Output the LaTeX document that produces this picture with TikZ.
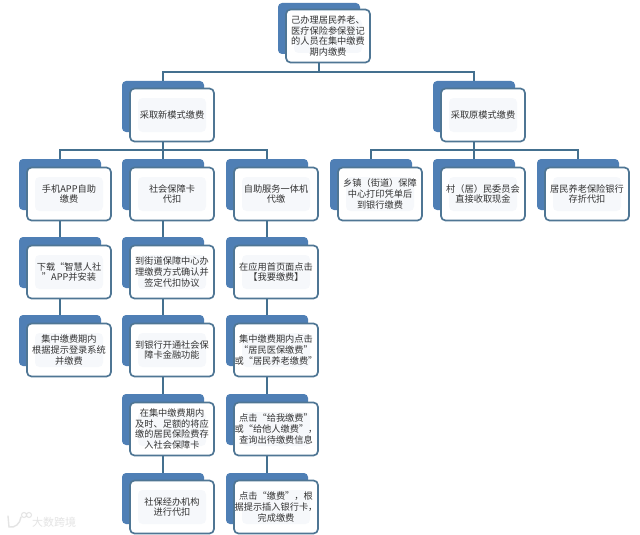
\documentclass[tikz,border=0pt]{standalone}
\usepackage{fontspec}
\setmainfont{Noto Sans CJK SC}
\definecolor{backblue}{HTML}{4F7FB5}
\definecolor{edgeblue}{HTML}{4F7694}
\definecolor{linkblue}{HTML}{44708F}
\definecolor{pale}{HTML}{F6F8FB}
\definecolor{ink}{HTML}{333333}
\definecolor{wm}{HTML}{E4E4E4}
\tikzset{
  backbox/.style={fill=backblue,draw=none,rounded corners=4pt,minimum width=82pt,minimum height=51pt,inner sep=0pt},
  frontbox/.style={fill=white,draw=edgeblue,line width=1.7pt,rounded corners=4.5pt,minimum width=84pt,minimum height=53pt,inner sep=0pt,align=center,text=ink,font=\fontsize{9.2}{10.6}\selectfont,
    path picture={\fill[pale] ([shift={(-34pt,-17pt)}]path picture bounding box.center) rectangle ([shift={(34pt,17pt)}]path picture bounding box.center);}},
  conn/.style={draw=linkblue,line width=1.8pt},
  wmark/.style={text=wm,font=\fontsize{11}{12}\selectfont,inner sep=0pt},
}
% name, back left, back top, front top, text
\newcommand{\bx}[5]{%
  \node[backbox] (#1-back) at (#2+41,#3+25.5) {};
  \node[frontbox] (#1) at (#2+50,#4+27) {#5};
}
\begin{document}
\begin{tikzpicture}[x=1pt,y=-1pt]
\useasboundingbox (0,0) rectangle (640,535);
\fill[white] (0,0) rectangle (640,535);

\bx{top}{278}{3}{9}{己办理居民养老、\\医疗保险参保登记\\的人员在集中缴费\\期内缴费}
\bx{newm}{122}{81}{88}{采取新模式缴费}
\bx{oldm}{433}{81}{88}{采取原模式缴费}

\bx{app}{19}{159}{167}{手机APP自助\\缴费}
\bx{card}{122}{159}{167}{社会保障卡\\代扣}
\bx{self}{226}{159}{167}{自助服务一体机\\代缴}
\bx{town}{330}{159}{167}{乡镇（街道）保障\\中心打印凭单后\\到银行缴费}
\bx{vill}{433}{159}{167}{村（居）民委员会\\直接收取现金}
\bx{bank}{537}{159}{167}{居民养老保险银行\\存折代扣}

\bx{app1}{19}{237}{245}{下载“智慧人社\\”APP并安装}
\bx{app2}{19}{315}{323}{集中缴费期内\\根据提示登录系统\\并缴费}

\bx{card1}{122}{237}{245}{到街道保障中心办\\理缴费方式确认并\\签定代扣协议}
\bx{card2}{122}{315}{323}{到银行开通社会保\\障卡金融功能}
\bx{card3}{122}{394}{402}{在集中缴费期内\\及时、足额的将应\\缴的居民保险费存\\入社会保障卡}
\bx{card4}{122}{473}{480}{社保经办机构\\进行代扣}

\bx{self1}{226}{237}{245}{在应用首页面点击\\【我要缴费】}
\bx{self2}{226}{315}{323}{集中缴费期内点击\\“居民医保缴费”\\或“居民养老缴费”}
\bx{self3}{226}{394}{402}{点击“给我缴费”\\或“给他人缴费”，\\查询出待缴费信息}
\bx{self4}{226}{473}{480}{点击“缴费”，根\\据提示插入银行卡，\\完成缴费}

% connectors
\draw[conn] (top.south -| top-back.south) -- ++(0,9) -| (newm-back.north);
\draw[conn] (top.south -| top-back.south) -- ++(0,9) -| (oldm-back.north);
\foreach \c in {app,card,self}
  \draw[conn] (newm.south -| newm-back.south) -- ++(0,8) -| (\c-back.north);
\foreach \c in {town,vill,bank}
  \draw[conn] (oldm.south -| oldm-back.south) -- ++(0,8) -| (\c-back.north);
\draw[conn] (app.south -| app-back.south) -- (app1-back.north);
\draw[conn] (app1.south -| app1-back.south) -- (app2-back.north);
\draw[conn] (card.south -| card-back.south) -- (card1-back.north);
\draw[conn] (card1.south -| card1-back.south) -- (card2-back.north);
\draw[conn] (card2.south -| card2-back.south) -- (card3-back.north);
\draw[conn] (card3.south -| card3-back.south) -- (card4-back.north);
\draw[conn] (self.south -| self-back.south) -- (self1-back.north);
\draw[conn] (self1.south -| self1-back.south) -- (self2-back.north);
\draw[conn] (self2.south -| self2-back.south) -- (self3-back.north);
\draw[conn] (self3.south -| self3-back.south) -- (self4-back.north);

% watermark
\node[wmark,anchor=west] (mark) at (32,522) {大数跨境};
\draw[wm,line width=1.4pt,line cap=round] (8,516) -- (9,527) .. controls (15,528) and (20,524) .. (21,517);
\draw[wm,line width=1pt] (24,515) circle (2.5pt) (29,515) circle (2.5pt);
\end{tikzpicture}
\end{document}
